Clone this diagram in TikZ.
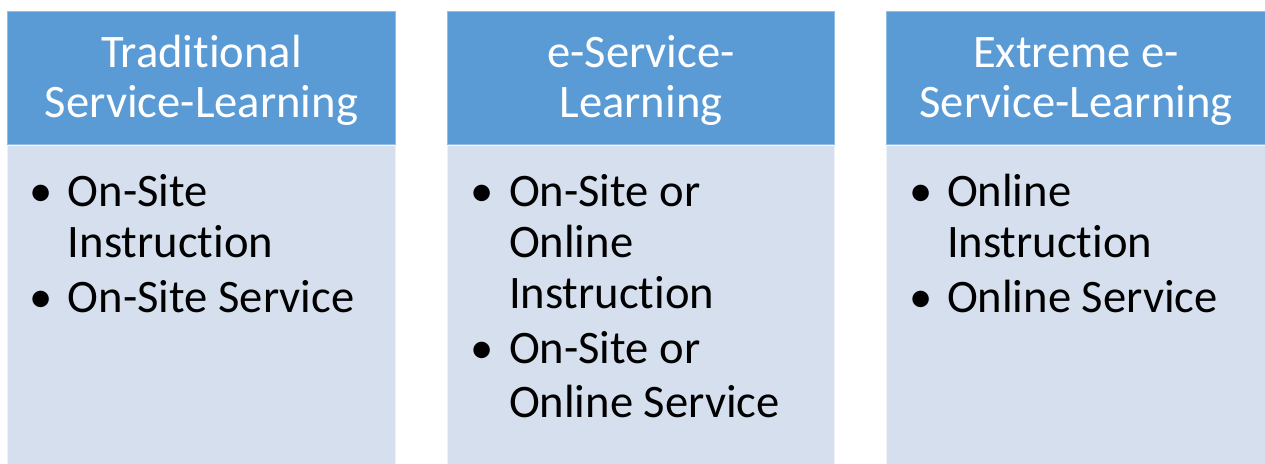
\documentclass[tikz,border=0pt]{standalone}
\usepackage{fontspec}
\setmainfont{Carlito}[RawFeature={-liga}]
\definecolor{headblue}{HTML}{5B9BD5}
\definecolor{bodyblue}{HTML}{D6DFEE}
\begin{document}
\begin{tikzpicture}[x=0.5pt,y=-0.5pt,
  head/.style={fill=headblue, draw=white, draw opacity=0.35, line width=0.6pt},
  body/.style={fill=bodyblue, draw=white, draw opacity=0.6, line width=0.6pt},
  txt/.style={font=\fontsize{23.3}{25}\selectfont, inner sep=0pt, outer sep=0pt},
  htext/.style={txt, text=white, anchor=base},
  btext/.style={txt, text=black, anchor=base west},
  bullet/.style={txt, text=black, anchor=base west}]
\useasboundingbox (0,0) rectangle (1265,464);
\clip (0,0) rectangle (1265,464);

% column boxes: header band and body panel
\path[body] (7,145) rectangle (396,480);
\path[head] (7,11) rectangle (396,145);
\path[body] (447,145) rectangle (835,480);
\path[head] (447,11) rectangle (835,145);
\path[body] (886,145) rectangle (1266,480);
\path[head] (886,11) rectangle (1266,145);

% headers
\node[htext] (h1a) at (201.5,68) {Traditional};
\node[htext] (h1b) at (201.5,118) {Service-Learning};
\node[htext] (h2a) at (641,68) {e-Service-};
\node[htext] (h2b) at (641,118) {Learning};
\node[htext] (h3a) at (1076,68) {Extreme e-};
\node[htext] (h3b) at (1076,118) {Service-Learning};

% first column
\node[bullet] (b1a) at (30,207) {\textbullet};
\node[btext] (t1a) at (68,207) {On-Site};
\node[btext] (t1b) at (68,258) {Instruction};
\node[bullet] (b1b) at (30,313) {\textbullet};
\node[btext] (t1c) at (68,313) {On-Site Service};

% second column
\node[bullet] (b2a) at (470,207) {\textbullet};
\node[btext] (t2a) at (509,207) {On-Site or};
\node[btext] (t2b) at (509,258) {Online};
\node[btext] (t2c) at (509,309) {Instruction};
\node[bullet] (b2b) at (470,364) {\textbullet};
\node[btext] (t2d) at (509,364) {On-Site or};
\node[btext] (t2e) at (509,418) {Online Service};

% third column
\node[bullet] (b3a) at (909,207) {\textbullet};
\node[btext] (t3a) at (947,207) {Online};
\node[btext] (t3b) at (947,258) {Instruction};
\node[bullet] (b3b) at (909,313) {\textbullet};
\node[btext] (t3c) at (947,313) {Online Service};
\end{tikzpicture}
\end{document}
